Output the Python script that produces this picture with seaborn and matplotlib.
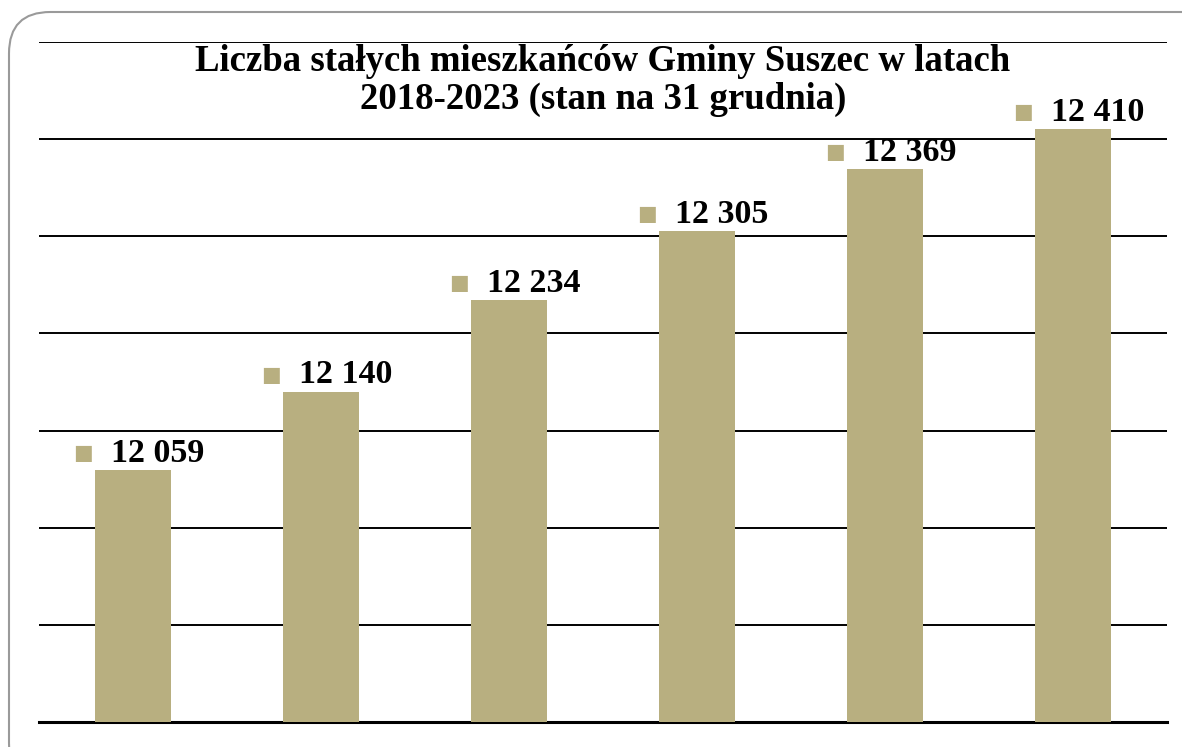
import matplotlib
matplotlib.use("Agg")
import matplotlib.pyplot as plt
from matplotlib.patches import FancyBboxPatch
import numpy as np
import pandas as pd
import seaborn as sns

# --- data ---
years = ["2018", "2019", "2020", "2021", "2022", "2023"]
residents = [12059, 12140, 12234, 12305, 12369, 12410]
labels = ["12 059", "12 140", "12 234", "12 305", "12 369", "12 410"]

TITLE = "Liczba stałych mieszkańców Gminy Suszec w latach\n2018-2023 (stan na 31 grudnia)"
BAR_COLOR = "#B8AF80"

sns.set_theme(style="white")
plt.rcParams["font.family"] = ["Liberation Serif", "DejaVu Serif"]

df = pd.DataFrame({"rok": years, "mieszkancy": residents})

fig = plt.figure(figsize=(11.82, 7.47), dpi=100)
ax = fig.add_axes([0.033, 0.0335, 0.954, 0.9103])

sns.barplot(data=df, x="rok", y="mieszkancy", color=BAR_COLOR, width=0.404,
            saturation=1, linewidth=0, ax=ax, zorder=3)

ax.set_ylim(11800, 12500)
ax.set_xlim(-0.5, len(years) - 0.5)
ax.set_yticks(np.arange(11800, 12501, 100))
ax.yaxis.grid(True, color="black", linewidth=1.4, zorder=0)
ax.set_axisbelow(True)
ax.tick_params(left=False, bottom=False, labelleft=False, labelbottom=False)
ax.set_xlabel("")
ax.set_ylabel("")
for s in ["left", "right", "top"]:
    ax.spines[s].set_visible(False)
ax.spines["bottom"].set_color("black")
ax.spines["bottom"].set_linewidth(2.2)

# value labels: small colour square + bold number above each bar
for i, (v, lab) in enumerate(zip(residents, labels)):
    ax.annotate("■", xy=(i, v), xytext=(-36, 5), textcoords="offset points",
                ha="center", va="bottom", fontsize=15, color=BAR_COLOR,
                family=["DejaVu Sans"], zorder=5)
    ax.annotate(lab, xy=(i, v), xytext=(18, 1), textcoords="offset points",
                ha="center", va="bottom", fontsize=24.5, fontweight="bold",
                color="black", zorder=5)

ax.text(0.5, 0.997, TITLE, transform=ax.transAxes, ha="center", va="top",
        fontsize=26.5, fontweight="bold", linespacing=1.12, color="black",
        zorder=6)

# rounded frame around the chart
frame = FancyBboxPatch((9 / 1182, -0.05), 1.2, 1 - 12 / 747 + 0.05,
                       boxstyle="round,pad=0,rounding_size=0.035",
                       transform=fig.transFigure, fill=False,
                       edgecolor="#9a9a9a", linewidth=1.5, mutation_aspect=1182 / 747)
fig.patches.append(frame)

fig.savefig("out.png", dpi=100)
